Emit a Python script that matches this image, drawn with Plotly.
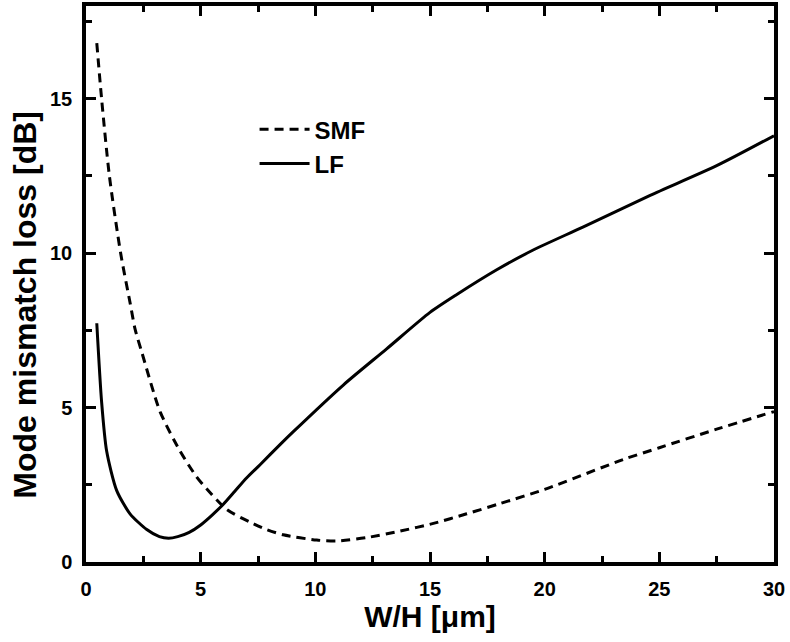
import plotly.graph_objects as go

# SMF (dashed)
smf_x = [0.47, 0.68, 1.02, 1.51, 1.92, 2.14, 2.43, 3.23, 4.1, 4.83, 5.26, 6.14, 7.15, 7.88,
         8.6, 10.06, 10.93, 12.24, 13.7, 15.15, 16.6, 18.05, 20.0, 23.43, 25.0, 27.5, 30.0]
smf_y = [16.8, 15.0, 12.5, 10.0, 8.4, 7.54, 6.8, 4.87, 3.59, 2.75, 2.37, 1.7, 1.29, 1.05,
         0.88, 0.71, 0.68, 0.79, 1.0, 1.25, 1.56, 1.89, 2.35, 3.32, 3.7, 4.3, 4.87]

# LF (solid)
lf_x = [0.47, 0.68, 0.9, 1.34, 1.92, 2.65, 3.2, 3.6, 4.0, 4.5, 5.0, 5.5, 6.0, 6.5, 7.0, 7.59,
        8.46, 9.04, 11.22, 13.11, 15.0, 16.17, 17.91, 19.5, 21.69, 24.6, 27.5, 30.0]
lf_y = [7.73, 5.19, 3.59, 2.31, 1.56, 1.05, 0.82, 0.77, 0.82, 0.96, 1.2, 1.52, 1.88, 2.3, 2.72, 3.15,
        3.8, 4.22, 5.73, 6.9, 8.08, 8.66, 9.46, 10.1, 10.85, 11.87, 12.83, 13.8]

x_range = [0, 30]
y_range = [0, 18]
major_step = 5
minor_step = 2.5

FONT = "Liberation Sans"

fig = go.Figure()
fig.add_trace(go.Scatter(x=smf_x, y=smf_y, mode="lines", name="<b>SMF</b>",
                         line=dict(color="black", width=3, dash="9px,6px", shape="spline", smoothing=0.7)))
fig.add_trace(go.Scatter(x=lf_x, y=lf_y, mode="lines", name="<b>LF</b>",
                         line=dict(color="black", width=3, shape="spline", smoothing=0.7)))

axis_common = dict(
    showgrid=False, zeroline=False, showline=True, linecolor="black", linewidth=3.5,
    mirror="allticks", ticks="inside", ticklen=10, tickwidth=3, tickcolor="black",
    tick0=0, dtick=major_step,
    tickfont=dict(family=FONT, size=20, color="black", weight="bold"),
    minor=dict(ticks="inside", ticklen=6, tickwidth=3, tickcolor="black", tick0=0, dtick=minor_step),
)

fig.update_xaxes(range=x_range, ticklabelstandoff=6,
                 title=dict(text="<b>W/H [μm]</b>", font=dict(family=FONT, size=30, color="black"), standoff=8),
                 **axis_common)
fig.update_yaxes(range=y_range, ticklabelstandoff=6, **axis_common)

fig.add_annotation(text="<b>Mode mismatch loss [dB]</b>", textangle=-90,
                   xref="paper", yref="paper", x=-0.09, y=0.463, xanchor="center", yanchor="middle",
                   showarrow=False, font=dict(family=FONT, size=32, color="black"))

fig.update_layout(
    width=790, height=642,
    margin=dict(l=86, r=16, t=2, b=80),
    plot_bgcolor="white", paper_bgcolor="white",
    showlegend=True,
    legend=dict(x=0.245, y=0.818, xanchor="left", yanchor="top", bgcolor="rgba(0,0,0,0)",
                font=dict(family=FONT, size=24, color="black"), itemwidth=50, tracegroupgap=0),
)

fig.write_html("out.html")
